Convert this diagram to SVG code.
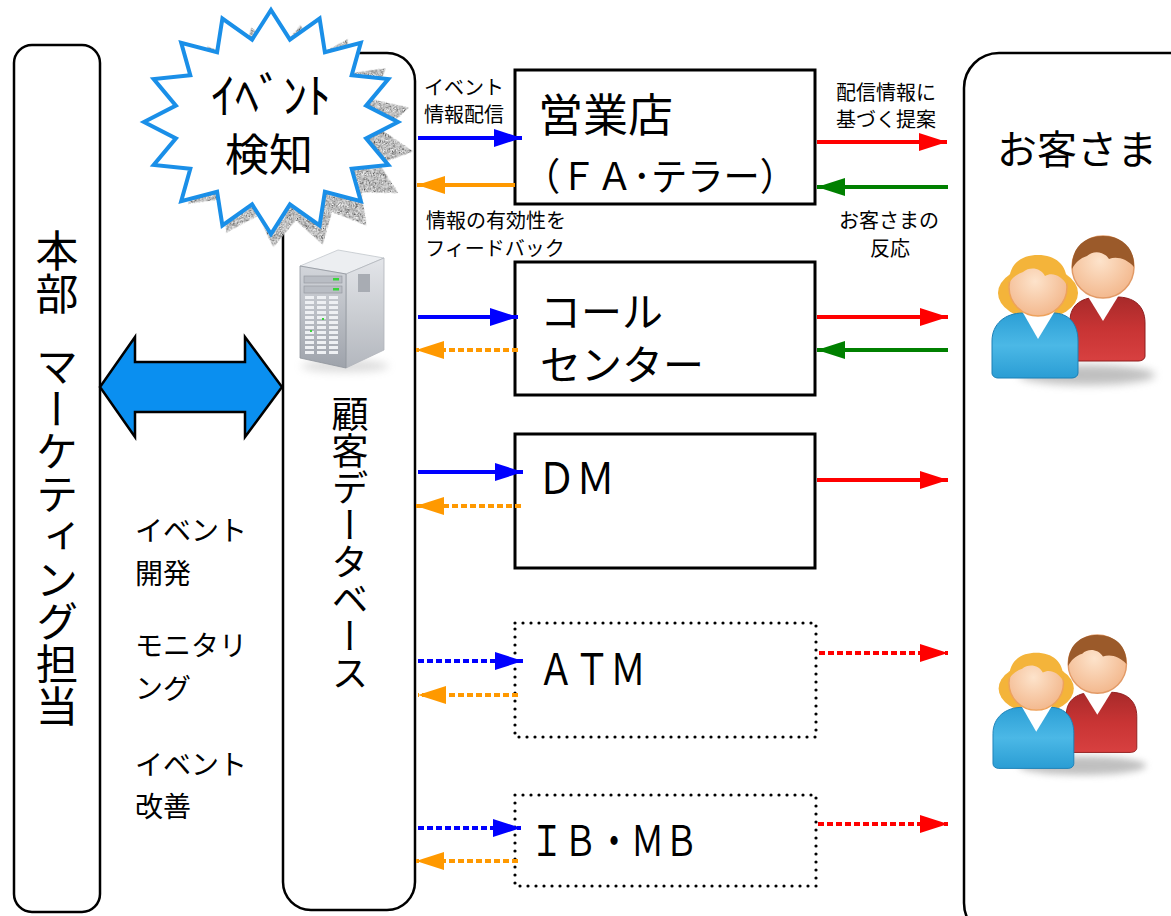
<svg xmlns="http://www.w3.org/2000/svg" width="1171" height="916" viewBox="0 0 1171 916">
  <style>
    .panel { fill: #fff; stroke: #000; stroke-width: 2.5; }
    .box { fill: #fff; stroke: #000; stroke-width: 3; }
    .box-dot { fill: #fff; stroke: #000; stroke-width: 3.2; stroke-dasharray: 0 8; stroke-linecap: round; }
    .jp { font-family: "Noto Sans CJK JP", "Noto Sans CJK SC", sans-serif; fill: #000; }
    .label { font-size: 20px; text-anchor: middle; }
    .side { font-size: 28px; }
    .vert { writing-mode: vertical-rl; }
    .conn { stroke-width: 4; fill: none; }
    .dash { stroke-dasharray: 6 3; }
    .blue { stroke: #0000ff; }
    .orange { stroke: #ff9900; }
    .red { stroke: #ff0000; }
    .green { stroke: #008000; }
  </style>
  <defs>
    <marker id="head-blue" markerUnits="userSpaceOnUse" markerWidth="28" markerHeight="18" refX="28" refY="9" orient="auto">
      <path d="M0,0 L28,9 L0,18 Z" fill="#0000ff"/>
    </marker>
    <marker id="head-orange" markerUnits="userSpaceOnUse" markerWidth="28" markerHeight="18" refX="28" refY="9" orient="auto">
      <path d="M0,0 L28,9 L0,18 Z" fill="#ff9900"/>
    </marker>
    <marker id="head-red" markerUnits="userSpaceOnUse" markerWidth="28" markerHeight="18" refX="28" refY="9" orient="auto">
      <path d="M0,0 L28,9 L0,18 Z" fill="#ff0000"/>
    </marker>
    <marker id="head-green" markerUnits="userSpaceOnUse" markerWidth="28" markerHeight="18" refX="28" refY="9" orient="auto">
      <path d="M0,0 L28,9 L0,18 Z" fill="#008000"/>
    </marker>

    <!-- 16-point burst -->
    <polygon id="burst" points="271,10 289.9,39.6 319.6,18.5 324.9,52.2 360.8,42.8 351.7,75.3 388.3,79.1 366.1,105.6 398,122 366.1,138.4 388.3,164.9 351.7,168.7 360.8,201.2 324.9,191.8 319.6,225.5 289.9,204.4 271,234 252.1,204.4 222.4,225.5 217.1,191.8 181.2,201.2 190.3,168.7 153.7,164.9 175.9,138.4 144,122 175.9,105.6 153.7,79.1 190.3,75.3 181.2,42.8 217.1,52.2 222.4,18.5 252.1,39.6"/>

    <filter id="speckle" x="-10%" y="-10%" width="120%" height="120%">
      <feTurbulence type="fractalNoise" baseFrequency="1.3" numOctaves="2" seed="3" result="noise"/>
      <feColorMatrix in="noise" type="matrix" values="1.7 0 0 0 -0.35  1.7 0 0 0 -0.35  1.7 0 0 0 -0.35  0 0 0 0 1" result="grain"/>
      <feComposite in="grain" in2="SourceAlpha" operator="in"/>
    </filter>

    <filter id="soft" x="-30%" y="-100%" width="160%" height="300%">
      <feGaussianBlur stdDeviation="4"/>
    </filter>

    <linearGradient id="srvFront" x1="0" y1="0" x2="0" y2="1">
      <stop offset="0" stop-color="#d3d6db"/>
      <stop offset="1" stop-color="#9ea3ab"/>
    </linearGradient>
    <linearGradient id="srvSide" x1="0" y1="0" x2="0" y2="1">
      <stop offset="0" stop-color="#e3e5e9"/>
      <stop offset="0.55" stop-color="#c9ccd1"/>
      <stop offset="1" stop-color="#b3b7be"/>
    </linearGradient>
    <pattern id="slots" width="12" height="5" patternUnits="userSpaceOnUse" x="305" y="296">
      <rect width="9" height="3" fill="#eef0f3"/>
    </pattern>

    <linearGradient id="shirtRed" x1="0" y1="0" x2="0" y2="1">
      <stop offset="0" stop-color="#a82a2a"/>
      <stop offset="0.5" stop-color="#c83434"/>
      <stop offset="1" stop-color="#d84040"/>
    </linearGradient>
    <linearGradient id="shirtBlue" x1="0" y1="0" x2="0" y2="1">
      <stop offset="0" stop-color="#2c9fd6"/>
      <stop offset="0.5" stop-color="#4bb8e6"/>
      <stop offset="1" stop-color="#2a9dd4"/>
    </linearGradient>
    <radialGradient id="skin" cx="0.45" cy="0.4" r="0.6">
      <stop offset="0" stop-color="#fde3cb"/>
      <stop offset="1" stop-color="#f3b98f"/>
    </radialGradient>

    <!-- pair of customers -->
    <g id="people">
      <ellipse cx="112" cy="140" rx="68" ry="10" fill="#8c8c8c" opacity="0.55" filter="url(#soft)"/>
      <path d="M95,125 L95,86 C95,69 108,62 125,62 L142,62 C158,62 170,70 170,88 L170,121 C170,124 167,126 163,126 L99,126 C96,126 95,125 95,125 Z" fill="url(#shirtRed)" stroke="#8e1d1d" stroke-width="1"/>
      <polygon points="112,60 128,86 144,60" fill="#fff"/>
      <circle cx="128" cy="32" r="31" fill="url(#skin)" stroke="#e29a66" stroke-width="1.5"/>
      <path d="M97,34 C96,12 110,1 128,1 C147,1 160,13 159,32 C152,24 142,21 134,24 C129,16 118,15 112,21 C105,23 100,28 97,34 Z" fill="#9b5a2a"/>
      <ellipse cx="63" cy="58" rx="40" ry="26" fill="#f4b43a"/>
      <path d="M17,138 L17,106 C17,89 30,78 48,78 L78,78 C94,78 103,89 103,106 L103,138 C103,141 100,143 97,143 L23,143 C20,143 17,141 17,138 Z" fill="url(#shirtBlue)" stroke="#1c80b6" stroke-width="1"/>
      <polygon points="47,76 63,104 80,76" fill="#fff"/>
      <circle cx="63" cy="52" r="29" fill="url(#skin)" stroke="#eea25c" stroke-width="1.5"/>
      <path d="M34,48 C34,27 48,20 63,20 C81,20 93,30 92,50 C86,40 77,37 70,41 C66,33 55,31 48,37 C42,39 37,43 34,48 Z" fill="#f4b43a"/>
    </g>
  </defs>

  <rect width="1171" height="916" fill="#fff"/>

  <!-- head office marketing -->
  <g id="hq">
    <rect class="panel" x="14" y="45" width="86" height="867" rx="18"/>
    <text class="jp vert" x="57" y="229" font-size="43">本部</text>
    <text class="jp vert" x="57" y="345" font-size="42.5">マーケティング担当</text>
  </g>

  <!-- customer database -->
  <g id="customer-db">
    <rect class="panel" x="283" y="53" width="132" height="857" rx="28"/>
    <text class="jp vert" x="350" y="395" font-size="37">顧客データベース</text>
  </g>

  <!-- customers -->
  <g id="customers">
    <rect class="panel" x="964" y="53" width="240" height="885" rx="35"/>
    <text class="jp" x="997" y="164" font-size="40">お客さま</text>
    <use href="#people" transform="translate(975,235)"/>
    <use href="#people" transform="translate(977,634) scale(0.94)"/>
  </g>

  <!-- server icon -->
  <g id="db-server">
    <ellipse cx="345" cy="366" rx="44" ry="6" fill="#9a9a9a" opacity="0.35" filter="url(#soft)"/>
    <polygon points="300,266 338,250 384,258 346,274" fill="#eceef1" stroke="#c2c6cc" stroke-width="0.8"/>
    <polygon points="346,274 384,258 384,350 346,368" fill="url(#srvSide)" stroke="#b0b4ba" stroke-width="0.8"/>
    <polygon points="300,266 346,274 346,368 300,358" fill="url(#srvFront)" stroke="#8f949c" stroke-width="0.8"/>
    <rect x="358" y="274" width="12" height="18" fill="#a8acb3"/>
    <rect x="304" y="276" width="38" height="7" fill="#b9bdc4" stroke="#8f949c" stroke-width="0.6"/>
    <rect x="304" y="286" width="38" height="7" fill="#b9bdc4" stroke="#8f949c" stroke-width="0.6"/>
    <rect x="333" y="278" width="6" height="2.5" fill="#39d43a"/>
    <rect x="333" y="288" width="6" height="2.5" fill="#39d43a"/>
    <rect x="305" y="296" width="36" height="58" fill="url(#slots)"/>
    <rect x="322" y="318" width="2" height="2" fill="#39d43a"/>
    <rect x="310" y="330" width="2" height="2" fill="#39d43a"/>
  </g>

  <!-- event detection burst -->
  <g id="event-detect">
    <use href="#burst" fill="#999" filter="url(#speckle)" transform="translate(16,14) rotate(7,271,122)"/>
    <use href="#burst" fill="#fff" stroke="#1a8fe8" stroke-width="4" stroke-linejoin="miter"/>
    <text class="jp" x="211" y="113" font-size="48">ｲﾍﾞﾝﾄ</text>
    <text class="jp" x="225" y="171" font-size="44">検知</text>
  </g>

  <!-- bidirectional link between HQ and database -->
  <g id="hq-db-link">
    <polygon points="100,387 135,337 135,362 245,362 245,337 282,387 245,437 245,412 135,412 135,437" fill="#0a8ff0" stroke="#000" stroke-width="2.5" stroke-linejoin="miter"/>
  </g>

  <!-- HQ tasks -->
  <g id="hq-tasks" class="jp side">
    <text x="135" y="541">イベント</text>
    <text x="135" y="584">開発</text>
    <text x="135" y="656">モニタリ</text>
    <text x="135" y="699">ング</text>
    <text x="135" y="775">イベント</text>
    <text x="135" y="817">改善</text>
  </g>

  <!-- channels -->
  <g id="branch">
    <rect class="box" x="515" y="70" width="300" height="134"/>
    <text class="jp" x="538" y="132" font-size="45">営業店</text>
    <text class="jp" x="524" y="190" font-size="38" textLength="272" lengthAdjust="spacingAndGlyphs">（ＦＡ･テラー）</text>
  </g>
  <g id="call-center">
    <rect class="box" x="515" y="262" width="300" height="133"/>
    <text class="jp" x="540" y="327" font-size="41">コール</text>
    <text class="jp" x="540" y="380" font-size="41">センター</text>
  </g>
  <g id="dm">
    <rect class="box" x="515" y="434" width="300" height="134"/>
    <text class="jp" x="537" y="494" font-size="44" textLength="78" lengthAdjust="spacingAndGlyphs">ＤＭ</text>
  </g>
  <g id="atm">
    <rect class="box-dot" x="515" y="623" width="301" height="114"/>
    <text class="jp" x="538" y="685" font-size="44" textLength="108" lengthAdjust="spacingAndGlyphs">ＡＴＭ</text>
  </g>
  <g id="ib-mb">
    <rect class="box-dot" x="515" y="795" width="301" height="91"/>
    <text class="jp" x="530" y="856" font-size="42" textLength="168" lengthAdjust="spacingAndGlyphs">ＩＢ・ＭＢ</text>
  </g>

  <!-- flow labels -->
  <g id="flow-labels" class="jp label">
    <text x="464" y="95">イベント</text>
    <text x="464" y="122">情報配信</text>
    <text x="886" y="100">配信情報に</text>
    <text x="886" y="127">基づく提案</text>
    <text x="496" y="228">情報の有効性を</text>
    <text x="495" y="256">フィードバック</text>
    <text x="889" y="228">お客さまの</text>
    <text x="890" y="256">反応</text>
  </g>

  <!-- connectors -->
  <g id="connectors">
    <line class="conn blue" x1="418" y1="138" x2="522" y2="138" marker-end="url(#head-blue)"/>
    <line class="conn orange" x1="515" y1="185" x2="417" y2="185" marker-end="url(#head-orange)"/>
    <line class="conn red" x1="817" y1="142" x2="947" y2="142" marker-end="url(#head-red)"/>
    <line class="conn green" x1="948" y1="187" x2="817" y2="187" marker-end="url(#head-green)"/>

    <line class="conn blue" x1="418" y1="317" x2="518" y2="317" marker-end="url(#head-blue)"/>
    <line class="conn orange dash" x1="518" y1="350" x2="416" y2="350" marker-end="url(#head-orange)"/>
    <line class="conn red" x1="817" y1="317" x2="948" y2="317" marker-end="url(#head-red)"/>
    <line class="conn green" x1="948" y1="350" x2="817" y2="350" marker-end="url(#head-green)"/>

    <line class="conn blue" x1="418" y1="472" x2="523" y2="472" marker-end="url(#head-blue)"/>
    <line class="conn orange dash" x1="521" y1="506" x2="416" y2="506" marker-end="url(#head-orange)"/>
    <line class="conn red" x1="817" y1="480" x2="948" y2="480" marker-end="url(#head-red)"/>

    <line class="conn blue dash" x1="418" y1="661" x2="523" y2="661" marker-end="url(#head-blue)"/>
    <line class="conn orange dash" x1="518" y1="695" x2="418" y2="695" marker-end="url(#head-orange)"/>
    <line class="conn red dash" x1="819" y1="653" x2="948" y2="653" marker-end="url(#head-red)"/>

    <line class="conn blue dash" x1="418" y1="828" x2="521" y2="828" marker-end="url(#head-blue)"/>
    <line class="conn orange dash" x1="518" y1="861" x2="416" y2="861" marker-end="url(#head-orange)"/>
    <line class="conn red dash" x1="818" y1="824" x2="948" y2="824" marker-end="url(#head-red)"/>
  </g>
</svg>
